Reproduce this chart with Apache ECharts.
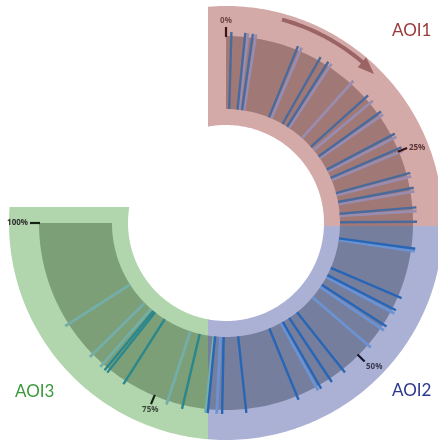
<!DOCTYPE html>
<html><head><meta charset="utf-8">
<script src="https://cdn.jsdelivr.net/npm/echarts@6/dist/echarts.min.js"></script>
<style>html,body{margin:0;padding:0;background:#fff}#c{width:438px;height:441px}</style>
</head><body><div id="c"></div>
<script>
// ---------------- data (timeline position in percent) ----------------
const aoiNames = ['AOI1', 'AOI2', 'AOI3'];
const aoi1Dark  = [0.6, 2.15, 3.0, 8.2, 11.0, 12.0, 17.8, 20.1, 23.0, 24.7, 27.7, 29.4, 31.6, 33.2];
const aoi1Light = [2.45, 3.35, 8.65, 12.4, 15.5, 18.6, 20.5, 23.4, 25.1, 28.1, 29.8, 32.0];
const aoi2Dark  = [36.2, 41.9, 43.4, 45.5, 52.4, 54.2, 55.6, 58.4, 64.4, 67.1, 68.7];
const aoi2Light = [36.5, 43.8, 46.0, 48.4, 56.0, 67.7];
const aoi3Dark  = [71.6, 78.7, 80.9, 81.3];
const aoi3Light = [68.95, 73.4, 81.9, 83.5, 87.9];
const tickValues = [0, 25, 50, 75, 100];
const tickLabels = ['0%', '25%', '50%', '75%', '100%'];
const arrowFrom = 5.7, arrowTo = 16.6;

// ---------------- layout / style ----------------
const CX = 226, CY = 223, R_MAX = 217;
const R_HOLE = 98, R_BAND_IN = 114, R_BAND_OUT = 187, R_LINE_OUT = 191;
const R_TICK_IN = 186, R_TICK_OUT = 196, R_LABEL = 198, R_ARROW = 211;
const DEG = 2.7; // degrees per percent (100% = 270deg)
const asinD = v => Math.asin(Math.max(-1, Math.min(1, v))) * 180 / Math.PI;
// straight cuts of the sectors (angles in degrees, clockwise from top, for radius R)
const cutPinkStart = R => -asinD(18 / R);       // vertical line left of centre, top
const cutPinkEnd   = R => 90 + asinD(3 / R);     // horizontal line just below centre, right
const cutBlueEnd   = R => 180 + asinD(18 / R);   // vertical line left of centre, bottom
const cutGreenEnd  = R => 270 + asinD(16 / R);   // horizontal line above centre, left
const cutZero      = R => 0;
const cutFull      = R => 270;

const bgColors   = ['#d4aaa9', '#aab1d4', '#b1d5ad'];
const bandColors = ['#a07977', '#767e9e', '#7c9f78'];
const darkLine   = ['#4a6a9c', '#2766b6', '#2a878c'];
const lightLine  = ['#9a8cae', '#6b93d4', '#74aea8'];
const aoiText    = ['#9b3a3a', '#2b388f', '#3b9a3b'];
const tickColors = ['#3a1414', '#3a1414', '#141428', '#142414', '#142414'];
const tickText   = ['#6e4646', '#5a3636', '#3a3a52', '#3c4c3c', '#2e2e2e'];

const bgSegs = [
  {from: cutPinkStart, to: cutPinkEnd},
  {from: cutPinkEnd, to: cutBlueEnd},
  {from: cutBlueEnd, to: cutGreenEnd}
];
const bandSegs = [
  {from: cutZero, to: cutPinkEnd},
  {from: cutPinkEnd, to: cutBlueEnd},
  {from: cutBlueEnd, to: cutFull}
];

function ringSeg(api, seg, rIn, rOut, color) {
  const pts = [];
  const n = 90;
  const a0 = seg.from(rOut), a1 = seg.to(rOut);
  for (let i = 0; i <= n; i++) {
    const a = a0 + (a1 - a0) * i / n;
    pts.push(api.coord([rOut, a / DEG]));
  }
  const b0 = seg.from(rIn), b1 = seg.to(rIn);
  for (let i = n; i >= 0; i--) {
    const a = b0 + (b1 - b0) * i / n;
    pts.push(api.coord([rIn, a / DEG]));
  }
  return {type: 'polygon', shape: {points: pts}, style: {fill: color}, silent: true};
}

const series = [];
series.push({
  type: 'custom', coordinateSystem: 'polar', silent: true,
  data: aoiNames.map((n, i) => [R_MAX, i]),
  renderItem: (p, api) => ringSeg(api, bgSegs[p.dataIndex], R_HOLE, R_MAX, bgColors[p.dataIndex])
});
series.push({
  type: 'custom', coordinateSystem: 'polar', silent: true,
  data: aoiNames.map((n, i) => [R_BAND_OUT, i]),
  renderItem: (p, api) => ringSeg(api, bandSegs[p.dataIndex], R_BAND_IN, R_BAND_OUT, bandColors[p.dataIndex])
});

function eventSeries(values, color, width) {
  return {
    type: 'custom', coordinateSystem: 'polar', silent: true,
    data: values.map(v => [R_LINE_OUT, v]),
    renderItem: (p, api) => {
      const v = api.value(1);
      const a = api.coord([R_BAND_IN, v]);
      const b = api.coord([R_LINE_OUT, v]);
      return {type: 'line', shape: {x1: a[0], y1: a[1], x2: b[0], y2: b[1]},
              style: {stroke: color, lineWidth: width, lineCap: 'butt'}};
    }
  };
}
[aoi1Light, aoi2Light, aoi3Light].forEach((arr, i) => series.push(eventSeries(arr, lightLine[i], 2.8)));
[aoi1Dark, aoi2Dark, aoi3Dark].forEach((arr, i) => series.push(eventSeries(arr, darkLine[i], 2.4)));

// ticks + labels
series.push({
  type: 'custom', coordinateSystem: 'polar', silent: true,
  data: tickValues.map(v => [R_TICK_OUT, v]),
  renderItem: (p, api) => {
    const i = p.dataIndex, v = api.value(1);
    const a = api.coord([R_TICK_IN, v]), b = api.coord([R_TICK_OUT, v]);
    const l = api.coord([R_LABEL, v]);
    const th = v * DEG * Math.PI / 180;
    const s = Math.sin(th), c = Math.cos(th);
    const align = s > 0.5 ? 'left' : (s < -0.5 ? 'right' : 'center');
    const va = c > 0.5 ? 'bottom' : (c < -0.5 ? 'top' : 'middle');
    return {type: 'group', children: [
      {type: 'line', shape: {x1: a[0], y1: a[1], x2: b[0], y2: b[1]},
       style: {stroke: tickColors[i], lineWidth: 2.2}},
      {type: 'text', x: l[0], y: l[1],
       style: {text: tickLabels[i], fill: tickText[i], font: 'bold 8px "Open Sans", sans-serif',
               align: align, verticalAlign: va}}
    ]};
  }
});

// direction arrow
series.push({
  type: 'custom', coordinateSystem: 'polar', silent: true,
  data: [[R_ARROW, arrowFrom]],
  renderItem: (p, api) => {
    const headLen = 1.5; // percent
    const pts = [];
    const end = arrowTo - headLen;
    for (let i = 0; i <= 40; i++) {
      const v = arrowFrom + (end - arrowFrom) * i / 40;
      pts.push(api.coord([R_ARROW, v]));
    }
    const tip = api.coord([R_ARROW - 1, arrowTo]);
    const h1 = api.coord([R_ARROW - 7, end - 0.2]);
    const h2 = api.coord([R_ARROW + 6, end - 0.2]);
    return {type: 'group', children: [
      {type: 'polyline', shape: {points: pts}, style: {stroke: '#9b6464', lineWidth: 4, fill: null}},
      {type: 'polygon', shape: {points: [h1, tip, h2]}, style: {fill: '#9b6464'}}
    ]};
  }
});

const chart = echarts.init(document.getElementById('c'), null, {renderer: 'canvas'});
chart.setOption({
  animation: false,
  polar: {center: [CX, CY], radius: R_MAX},
  angleAxis: {type: 'value', min: 0, max: 400 / 3, startAngle: 90, clockwise: true, show: false},
  radiusAxis: {type: 'value', min: 0, max: R_MAX, show: false},
  series: series,
  graphic: [
    {type: 'text', left: 392, top: 22, style: {text: aoiNames[0], fill: aoiText[0], font: '17px Lato, sans-serif'}},
    {type: 'text', left: 392, top: 382, style: {text: aoiNames[1], fill: aoiText[1], font: '17px Lato, sans-serif'}},
    {type: 'text', left: 15, top: 383, style: {text: aoiNames[2], fill: aoiText[2], font: '17px Lato, sans-serif'}}
  ]
});
</script></body></html>
